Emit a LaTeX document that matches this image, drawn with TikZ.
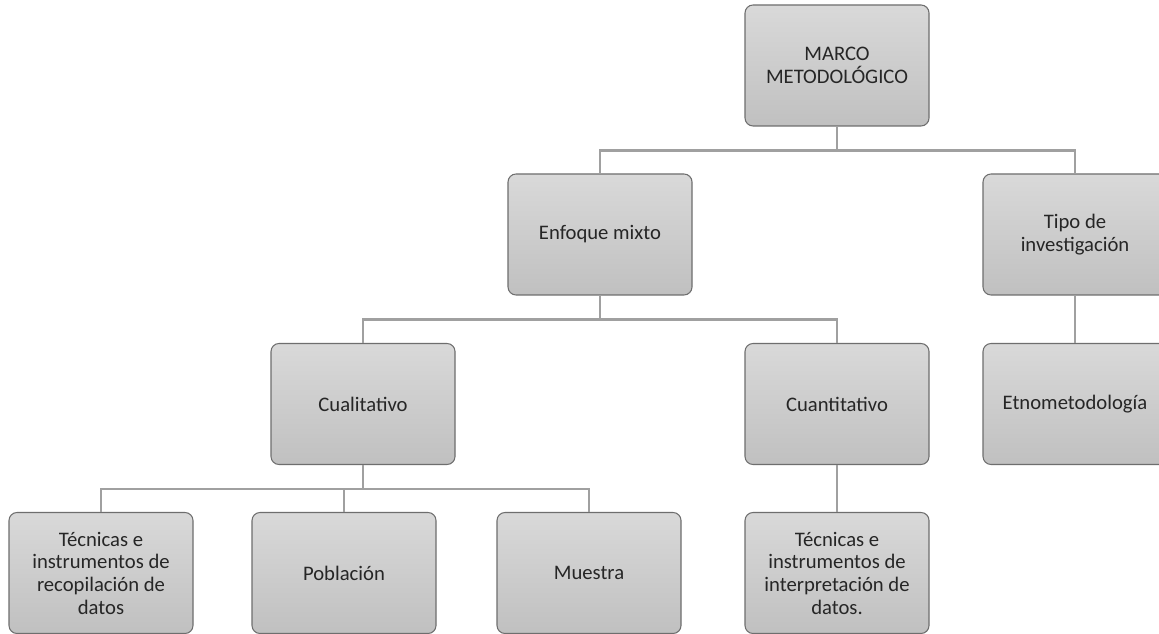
\documentclass[tikz,border=0pt]{standalone}
\usepackage{fontspec}
\setmainfont{Carlito}
\usepackage{xcolor}
\definecolor{boxtop}{RGB}{217,217,217}
\definecolor{boxbot}{RGB}{192,192,192}
\definecolor{boxline}{RGB}{110,110,110}
\definecolor{linkgray}{RGB}{160,160,160}
\definecolor{textgray}{RGB}{38,38,38}

\tikzset{
  box/.style={draw=boxline, line width=0.8pt, rounded corners=6pt,
    top color=boxtop, bottom color=boxbot,
    minimum width=138pt, minimum height=90.75pt, inner sep=0pt,
    align=center, text=textgray, font=\fontsize{15.5}{17}\selectfont},
  link/.style={draw=linkgray, line width=1.8pt}
}

\begin{document}
\begin{tikzpicture}[x=0.75pt, y=-0.75pt]

% Page
\clip (0,0) rectangle (1159,634);
\fill[white] (0,0) rectangle (1159,634);

% Top
\node[box] (marco) at (837,65.5) {MARCO\\METODOLÓGICO};

% Second row
\node[box] (enfoque) at (600,234.5) {Enfoque mixto};
\node[box] (tipo) at (1075,234.5) {Tipo de\\investigación};

% Third row
\node[box] (cuali) at (363,404) {Cualitativo};
\node[box] (cuanti) at (837,404) {Cuantitativo};
\node[box] (etno) at (1075,404) {Etnometodología};

% Bottom row
\node[box] (tecrec) at (101,573) {Técnicas e\\instrumentos de\\recopilación de\\datos};
\node[box] (pobl) at (344,573) {Población};
\node[box] (muestra) at (589,573) {Muestra};
\node[box] (tecint) at (837,573) {Técnicas e\\instrumentos de\\interpretación de\\datos.};

% Connectors
\foreach \a/\b in {
marco/enfoque,
marco/tipo,
enfoque/cuali,
enfoque/cuanti,
cuali/tecrec,
cuali/pobl,
cuali/muestra%
}{
\draw[link] (\a.south) -- ++(0,24) -| (\b.north);
}
\draw[link] (tipo.south) -- (etno.north);
\draw[link] (cuanti.south) -- (tecint.north);

\end{tikzpicture}
\end{document}
